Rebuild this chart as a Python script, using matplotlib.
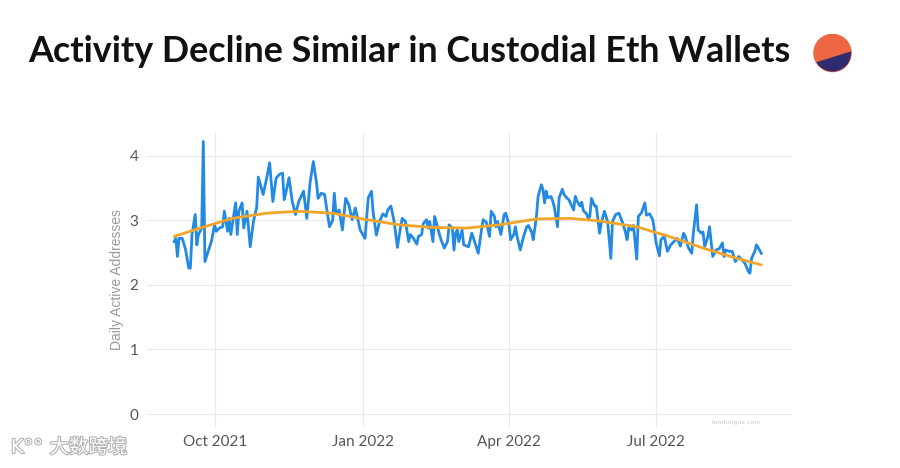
"""Daily active addresses of custodial ETH wallets with a smoothed trend."""

import numpy as np
import pandas as pd
import matplotlib
matplotlib.use("Agg")
import matplotlib.pyplot as plt
import matplotlib.dates as mdates
import matplotlib.patheffects as pe
from matplotlib.patches import Circle, Polygon

start = pd.Timestamp("2021-09-06")

# days after start, daily active addresses
daily_days = [
    0, 1, 2, 3, 5, 7, 9, 10, 11, 13, 14, 15, 17, 18, 19, 21, 23, 25, 26, 28,
    30, 31, 33, 34, 35, 38, 39, 40, 42, 43, 45, 47, 49, 51, 52, 55, 57, 59, 61, 63,
    65, 67, 68, 69, 71, 73, 75, 77, 80, 82, 84, 86, 88, 89, 91, 93, 96, 98, 99, 100,
    102, 104, 106, 108, 110, 112, 115, 118, 120, 122, 123, 125, 127, 129, 131, 132, 134, 136, 138, 140,
    141, 143, 145, 146, 148, 150, 151, 153, 154, 156, 157, 158, 160, 161, 163, 164, 165, 167, 169, 170,
    172, 173, 174, 175, 176, 178, 179, 182, 184, 186, 188, 190, 191, 193, 195, 196, 198, 199, 200, 202,
    204, 205, 207, 208, 210, 211, 212, 214, 216, 218, 219, 221, 222, 224, 225, 227, 228, 229, 230, 231,
    233, 234, 235, 237, 238, 240, 241, 243, 244, 247, 248, 249, 251, 252, 253, 255, 256, 257, 258, 260,
    261, 263, 264, 266, 268, 270, 271, 273, 275, 277, 279, 280, 281, 283, 284, 286, 287, 289, 291, 292,
    294, 296, 298, 300, 301, 303, 305, 307, 311, 313, 315, 316, 318, 320, 321, 323, 324, 326, 327, 328,
    330, 331, 333, 335, 337, 339, 340, 341, 343, 345, 347, 349, 351, 353, 355, 356, 357, 359, 360, 361,
    363,
]
daily_values = [
    2.67, 2.72, 2.44, 2.72, 2.72, 2.55, 2.26, 2.26, 2.78, 3.09, 2.62, 2.78, 2.88, 4.22, 2.36, 2.52, 2.67, 2.93, 2.83, 2.88,
    2.90, 3.14, 2.83, 3.03, 2.78, 3.27, 2.78, 3.14, 3.27, 2.88, 3.14, 2.59, 2.98, 3.20, 3.67, 3.40, 3.63, 3.89, 3.29, 3.65,
    3.71, 3.73, 3.32, 3.42, 3.66, 3.29, 3.09, 3.29, 3.45, 3.03, 3.58, 3.91, 3.58, 3.34, 3.42, 3.40, 2.90, 3.00, 3.42, 3.11,
    3.16, 2.85, 3.34, 3.24, 3.01, 3.19, 2.85, 2.72, 3.35, 3.45, 3.13, 2.77, 2.98, 3.10, 3.06, 3.16, 3.22, 2.98, 2.58, 2.90,
    3.03, 2.98, 2.67, 2.78, 2.72, 2.63, 2.75, 2.78, 2.95, 3.01, 2.88, 2.98, 2.67, 3.06, 2.88, 2.78, 2.70, 2.57, 2.67, 2.93,
    2.88, 2.54, 2.80, 2.85, 2.67, 2.85, 2.62, 2.59, 2.80, 2.65, 2.49, 2.85, 3.01, 2.97, 2.75, 3.14, 3.06, 2.90, 2.98, 2.78,
    3.09, 3.11, 2.93, 2.70, 2.78, 2.90, 2.75, 2.54, 2.75, 2.90, 2.92, 2.82, 2.70, 3.06, 3.37, 3.55, 3.48, 3.27, 3.45, 3.35,
    3.37, 3.30, 3.21, 2.90, 3.35, 3.48, 3.40, 3.34, 3.32, 3.16, 3.37, 3.30, 3.22, 3.28, 3.15, 3.10, 3.03, 3.06, 3.34, 3.22,
    3.22, 2.80, 2.95, 3.14, 2.98, 2.41, 2.98, 3.09, 3.11, 2.98, 2.82, 2.70, 2.88, 2.85, 2.92, 2.40, 3.06, 3.12, 3.27, 3.08,
    3.10, 3.00, 2.65, 2.45, 2.70, 2.75, 2.52, 2.62, 2.72, 2.60, 2.80, 2.75, 2.57, 2.49, 2.80, 3.24, 2.85, 2.80, 2.82, 2.59,
    2.75, 2.90, 2.44, 2.54, 2.56, 2.65, 2.44, 2.54, 2.52, 2.52, 2.36, 2.44, 2.39, 2.33, 2.21, 2.18, 2.41, 2.52, 2.62, 2.58,
    2.49,
]

# smoothed trend line
trend_days = [0, 16, 36, 57, 77, 98, 119, 139, 160, 181, 201, 224, 245, 263, 286, 306, 327, 348, 363]
trend_values = [2.75, 2.88, 3.03, 3.11, 3.14, 3.11, 3.01, 2.93, 2.89, 2.88, 2.93, 3.02, 3.03, 2.99, 2.90, 2.75,
                2.57, 2.41, 2.31]

title = "Activity Decline Similar in Custodial Eth Wallets"
y_ticks = [0, 1, 2, 3, 4]
x_ticks = ["2021-10-01", "2022-01-01", "2022-04-01", "2022-07-01"]

daily_dates = start + pd.to_timedelta(daily_days, unit="D")
trend_dates = start + pd.to_timedelta(trend_days, unit="D")

fig = plt.figure(figsize=(9, 4.68), dpi=100)
ax = fig.add_axes([0.163, 0.0876, 0.717, 0.628])

ax.plot(daily_dates, daily_values, color="#2389E3", linewidth=2.0, solid_joinstyle="round")
ax.plot(trend_dates, trend_values, color="#F2A528", linewidth=2.0, solid_capstyle="round")

ax.set_ylim(-0.2, 4.35)
ax.set_xlim(start - pd.Timedelta(days=17), start + pd.Timedelta(days=382))
ax.set_yticks(y_ticks)
ax.set_xticks(pd.to_datetime(x_ticks))
ax.xaxis.set_major_formatter(mdates.DateFormatter("%b %Y"))
ax.grid(True, color="#e8e8e8", linewidth=0.8)
ax.set_axisbelow(True)
for s in ax.spines.values():
    s.set_visible(False)
ax.tick_params(length=0, labelsize=11, colors="#555555", pad=6)
for lbl in ax.get_xticklabels() + ax.get_yticklabels():
    lbl.set_family("Lato")
ax.set_ylabel("Daily Active Addresses", color="#9a9a9a", fontsize=10, labelpad=4,
              family="Liberation Sans")

fig.text(0.031, 0.889, title, fontsize=25.8, fontweight="bold", color="#111111",
         va="center", ha="left", family="Lato")

# round logo next to the title
lax = fig.add_axes([813 / 900, 1 - 73 / 468, 39 / 900, 40 / 468])
lax.set_xlim(-1.05, 1.05)
lax.set_ylim(-1.05, 1.05)
lax.set_aspect("equal")
lax.axis("off")
circ = Circle((0, 0), 1, color="#EE6742")
lax.add_patch(circ)
lower = Polygon([(-1.2, -0.64), (1.2, 0.11), (1.2, -1.2), (-1.2, -1.2)], color="#2E2B6E")
lax.add_patch(lower)
lower.set_clip_path(circ)

# small source mark and the watermark in the corner
fig.text(0.818, 0.094, "tomfungus.com", fontsize=4.5, color="#c8c8c8", ha="center")
fig.text(0.055, 0.032, "大数跨境", fontsize=14, color="white",
         family=["Noto Sans CJK SC", "DejaVu Sans"], ha="left",
         path_effects=[pe.withStroke(linewidth=1.5, foreground="#b0b0b0")])
fig.text(0.012, 0.032, "K°°", fontsize=14, color="white", ha="left",
         path_effects=[pe.withStroke(linewidth=1.5, foreground="#b0b0b0")])

plt.savefig("out.png", dpi=100)
